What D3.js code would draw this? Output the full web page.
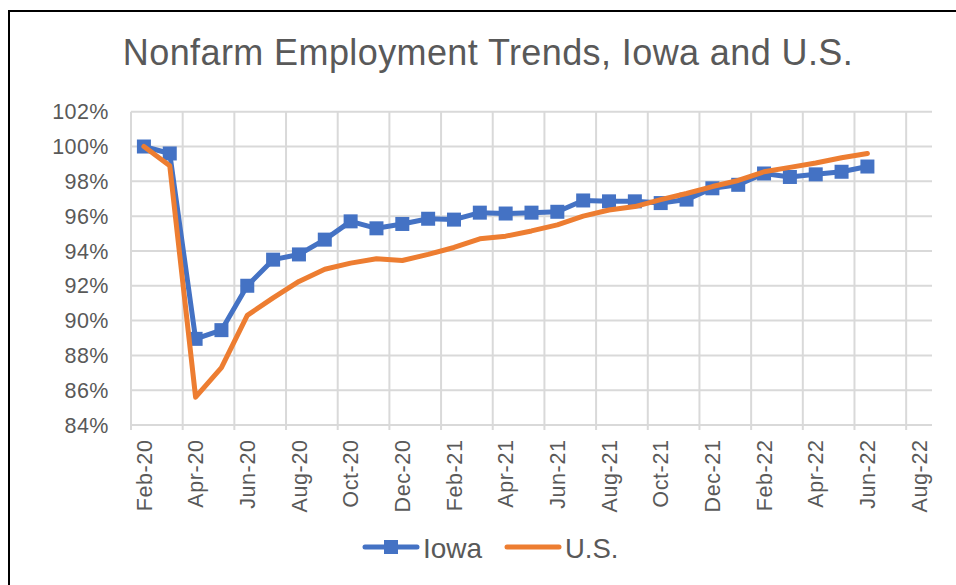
<!DOCTYPE html>
<html>
<head>
<meta charset="utf-8">
<script src="https://cdn.jsdelivr.net/npm/d3@7"></script>
<style>
  body { margin: 0; background: #fff; }
  svg { display: block; font-family: "Liberation Sans", Arial, sans-serif; }
  .grid line { stroke: #d9d9d9; stroke-width: 2px; }
  .lbl { fill: #595959; }
</style>
</head>
<body>
<svg id="chart" width="956" height="585"></svg>
<script>
// months on the date axis (Feb-20 .. Aug-22)
var months = ["Feb-20","Mar-20","Apr-20","May-20","Jun-20","Jul-20","Aug-20","Sep-20","Oct-20","Nov-20","Dec-20",
  "Jan-21","Feb-21","Mar-21","Apr-21","May-21","Jun-21","Jul-21","Aug-21","Sep-21","Oct-21","Nov-21","Dec-21",
  "Jan-22","Feb-22","Mar-22","Apr-22","May-22","Jun-22","Jul-22","Aug-22"];

// every other month gets a label
var tickLabels = ["Feb-20","Apr-20","Jun-20","Aug-20","Oct-20","Dec-20","Feb-21","Apr-21","Jun-21","Aug-21",
  "Oct-21","Dec-21","Feb-22","Apr-22","Jun-22","Aug-22"];

var yTicks = [84, 86, 88, 90, 92, 94, 96, 98, 100, 102];

// employment as % of Feb-20 level, Feb-20 .. Jun-22
var iowa = [100.0, 99.6, 88.95, 89.45, 92.0, 93.5, 93.8, 94.65, 95.7, 95.3, 95.55, 95.85, 95.8, 96.2, 96.15,
  96.2, 96.25, 96.9, 96.85, 96.85, 96.75, 96.95, 97.6, 97.8, 98.45, 98.25, 98.4, 98.55, 98.85];
var us = [100.0, 98.9, 85.6, 87.3, 90.3, 91.3, 92.25, 92.95, 93.3, 93.55, 93.45, 93.8, 94.2, 94.7, 94.85,
  95.15, 95.5, 96.0, 96.35, 96.55, 96.95, 97.3, 97.7, 98.05, 98.55, 98.8, 99.05, 99.35, 99.6];

var plot = {left: 131, right: 932, top: 111.7, bottom: 425};

var svg = d3.select("#chart");

// frame
svg.append("rect")
  .attr("x", 9).attr("y", 11)
  .attr("width", 960).attr("height", 600)
  .attr("fill", "#fff")
  .attr("stroke", "#000").attr("stroke-width", 2);

// title
svg.append("text")
  .attr("class", "lbl")
  .attr("x", 488).attr("y", 65)
  .attr("text-anchor", "middle")
  .style("font-size", "36px")
  .style("letter-spacing", "0.4px")
  .text("Nonfarm Employment Trends, Iowa and U.S.");

var x = d3.scaleBand()
  .domain(months)
  .range([plot.left, plot.right])
  .padding(0);

var y = d3.scaleLinear()
  .domain([84, 102])
  .range([plot.bottom, plot.top]);

function cx(i) { return x(months[i]) + x.bandwidth() / 2; }

// horizontal gridlines
var grid = svg.append("g").attr("class", "grid");
grid.selectAll("line.h")
  .data(yTicks)
  .enter().append("line")
  .attr("class", "h")
  .attr("x1", plot.left).attr("x2", plot.right)
  .attr("y1", function(d) { return y(d); })
  .attr("y2", function(d) { return y(d); });

// vertical gridlines, one every two months, with short ticks below the axis
grid.selectAll("line.v")
  .data(tickLabels)
  .enter().append("line")
  .attr("class", "v")
  .attr("x1", function(d) { return x(d); })
  .attr("x2", function(d) { return x(d); })
  .attr("y1", plot.top)
  .attr("y2", plot.bottom + 5);

// y labels
svg.append("g").selectAll("text")
  .data(yTicks)
  .enter().append("text")
  .attr("class", "lbl")
  .attr("x", 108.8)
  .attr("y", function(d) { return y(d) + 7.6; })
  .attr("text-anchor", "end")
  .style("font-size", "21.5px")
  .style("letter-spacing", "0.4px")
  .text(function(d) { return d + "%"; });

// x labels, rotated
svg.append("g").selectAll("text")
  .data(tickLabels)
  .enter().append("text")
  .attr("class", "lbl")
  .attr("transform", function(d) {
    return "translate(" + (x(d) + x.bandwidth() / 2) + "," + 439.5 + ") rotate(-90)";
  })
  .attr("dy", "0.36em")
  .attr("text-anchor", "end")
  .style("font-size", "21.5px")
  .style("letter-spacing", "0.6px")
  .text(function(d) { return d; });

var line = d3.line()
  .x(function(d, i) { return cx(i); })
  .y(function(d) { return y(d); });

// Iowa: line with square markers
svg.append("path")
  .datum(iowa)
  .attr("d", line)
  .attr("fill", "none")
  .attr("stroke", "#4472c4")
  .attr("stroke-width", 5)
  .attr("stroke-linejoin", "round");

var mk = 14;
svg.append("g").selectAll("rect")
  .data(iowa)
  .enter().append("rect")
  .attr("x", function(d, i) { return cx(i) - mk / 2; })
  .attr("y", function(d) { return y(d) - mk / 2; })
  .attr("width", mk).attr("height", mk)
  .attr("fill", "#4472c4");

// U.S.
svg.append("path")
  .datum(us)
  .attr("d", line)
  .attr("fill", "none")
  .attr("stroke", "#ed7d31")
  .attr("stroke-width", 5)
  .attr("stroke-linejoin", "round")
  .attr("stroke-linecap", "round");

// legend
var legend = svg.append("g");
legend.append("line")
  .attr("x1", 365).attr("x2", 417).attr("y1", 547).attr("y2", 547)
  .attr("stroke", "#4472c4").attr("stroke-width", 5).attr("stroke-linecap", "round");
legend.append("rect")
  .attr("x", 391 - mk / 2).attr("y", 547 - mk / 2)
  .attr("width", mk).attr("height", mk)
  .attr("fill", "#4472c4");
legend.append("text")
  .attr("class", "lbl")
  .attr("x", 423).attr("y", 557.5)
  .style("font-size", "28px")
  .text("Iowa");

legend.append("line")
  .attr("x1", 507).attr("x2", 559).attr("y1", 547).attr("y2", 547)
  .attr("stroke", "#ed7d31").attr("stroke-width", 5).attr("stroke-linecap", "round");
legend.append("text")
  .attr("class", "lbl")
  .attr("x", 565).attr("y", 557.5)
  .style("font-size", "27.5px")
  .text("U.S.");
</script>
</body>
</html>
